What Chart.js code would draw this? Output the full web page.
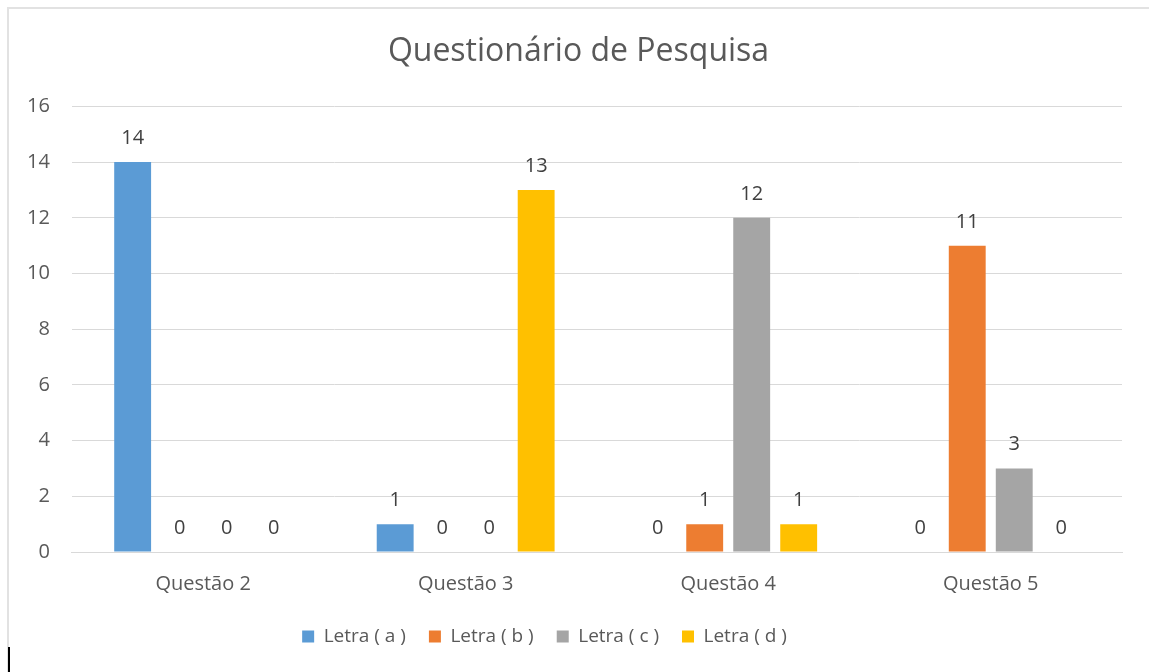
<!DOCTYPE html>
<html>
<head>
<meta charset="utf-8">
<script src="https://cdn.jsdelivr.net/npm/chart.js@4/dist/chart.umd.min.js"></script>
<style>
  html, body { margin: 0; padding: 0; background: #fff; }
  #wrap { position: relative; width: 1149px; height: 672px; }
  #frame { position: absolute; left: 7px; top: 7px; width: 1160px; height: 700px;
           border-top: 2px solid #e2e2e2; border-left: 2px solid #e2e2e2; box-sizing: border-box; }
  #cursor { position: absolute; left: 8px; top: 647px; width: 2px; height: 25px; background: #000; }
  canvas { position: absolute; left: 0; top: 0; }
</style>
</head>
<body>
<div id="wrap">
  <div id="frame"></div>
  <div id="cursor"></div>
  <canvas id="c" width="1149" height="672"></canvas>
</div>
<script>
/* dados */
const categorias = ['Questão 2', 'Questão 3', 'Questão 4', 'Questão 5'];
const letraA = [14, 1, 0, 0];
const letraB = [0, 0, 1, 11];
const letraC = [0, 0, 12, 3];
const letraD = [0, 13, 1, 0];
const series = ['Letra ( a )', 'Letra ( b )', 'Letra ( c )', 'Letra ( d )'];
const cores  = ['#5B9BD5', '#ED7D31', '#A5A5A5', '#FFC000'];

const FONT = '"Open Sans", "Noto Sans", sans-serif';
const TXT  = '#595959';

/* rótulos de valor acima das barras */
const rotulos = {
  id: 'rotulos',
  afterDatasetsDraw(chart) {
    const ctx = chart.ctx;
    ctx.save();
    ctx.font = '20px ' + FONT;
    ctx.fillStyle = '#404040';
    ctx.textAlign = 'center';
    ctx.textBaseline = 'alphabetic';
    chart.data.datasets.forEach((ds, i) => {
      chart.getDatasetMeta(i).data.forEach((bar, j) => {
        ctx.fillText(String(ds.data[j]), bar.x, bar.y - 18);
      });
    });
    ctx.restore();
  }
};

/* desloca título e legenda como no original (não ficam no centro exato) */
const ajuste = {
  id: 'ajuste',
  afterLayout(chart) {
    const t = chart.titleBlock, l = chart.legend;
    if (t) { t.left += 15; t.right += 15; }
    if (l) { l.left -= 19; l.right -= 19; l.top -= 4; l.bottom -= 4; }
  }
};

const dados = [letraA, letraB, letraC, letraD];

new Chart(document.getElementById('c'), {
  type: 'bar',
  data: {
    labels: categorias,
    datasets: series.map((nome, i) => ({
      label: nome,
      data: dados[i],
      backgroundColor: cores[i],
      borderWidth: 0,
      categoryPercentage: 0.716,
      barPercentage: 0.785,
    })),
  },
  options: {
    responsive: false, animation: false,
    layout: { padding: { left: 5, right: 27, top: 0, bottom: 12 } },
    plugins: {
      title: {
        display: true, text: 'Questionário de Pesquisa', color: TXT,
        font: { family: FONT, size: 32, weight: 'normal' },
        padding: { top: 33, bottom: 35 },
      },
      legend: {
        position: 'bottom',
        labels: {
          color: TXT, boxWidth: 12, boxHeight: 12, padding: 23,
          font: { family: FONT, size: 19 },
        },
      },
      tooltip: { enabled: false },
    },
    scales: {
      x: {
        grid: { display: false },
        border: { display: true, color: '#d9d9d9', width: 1 },
        ticks: { color: TXT, font: { family: FONT, size: 20 }, padding: 12 },
      },
      y: {
        min: 0, max: 16,
        grid: { color: '#d9d9d9', drawTicks: false },
        border: { display: false },
        ticks: { stepSize: 2, color: TXT, font: { family: FONT, size: 20 }, padding: 22 },
      },
    },
  },
  plugins: [rotulos, ajuste],
});
</script>
</body>
</html>
